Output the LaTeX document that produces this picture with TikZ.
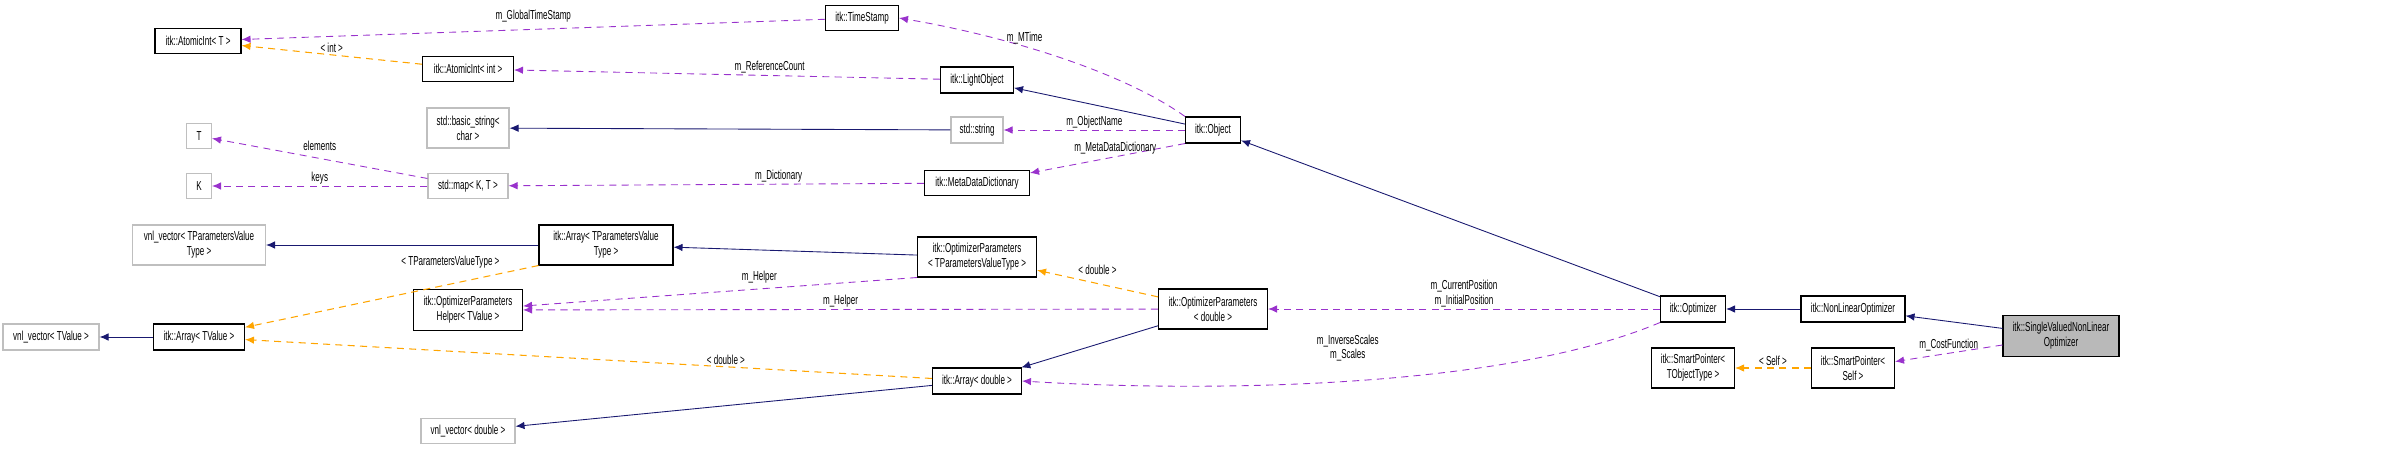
\documentclass[tikz,border=0pt]{standalone}
\usepackage{fontspec}
\setmainfont{Liberation Sans}[FakeStretch=0.62]
\usetikzlibrary{arrows.meta}
\definecolor{navyedge}{RGB}{25,25,112}
\definecolor{useedge}{RGB}{153,50,204}
\definecolor{tmpledge}{RGB}{255,165,0}
\begin{document}
\begin{tikzpicture}[x=0.2mm,y=-0.2mm,>={Latex[length=1.8mm,width=1.5mm]},
  cls/.style={draw,line width=0.6pt,inner sep=1pt,font=\fontsize{7.4}{8.4}\selectfont,align=center},
  ext/.style={cls,draw=gray!50},
  main/.style={cls,fill=gray!55},
  sz/.style 2 args={minimum width=#1*0.2mm,minimum height=#2*0.2mm},
  inh/.style={->,draw=navyedge,line width=0.5pt},
  use/.style={->,draw=useedge,dashed,dash pattern=on 4pt off 3pt,line width=0.5pt},
  tpl/.style={->,draw=tmpledge,dashed,dash pattern=on 4pt off 3pt,line width=0.6pt},
  lbl/.style={font=\fontsize{7.4}{8.4}\selectfont,align=center,inner sep=1pt}]
\useasboundingbox (0,0) rectangle (2403,451);

% left column
\node[cls,sz={86}{25}] (aiT) at (198,41) {itk::AtomicInt< T >};
\node[ext,sz={25}{25}] (T) at (199,136) {T};
\node[ext,sz={25}{25}] (K) at (199,186) {K};
\node[ext,sz={133}{40}] (vnlTP) at (199,245) {vnl\_vector< TParametersValue\\Type >};
\node[ext,sz={96}{26}] (vnlTV) at (51,337) {vnl\_vector< TValue >};
\node[cls,sz={91}{26}] (arrTV) at (199,337) {itk::Array< TValue >};

% second column
\node[cls,sz={91}{25}] (aiInt) at (468,69) {itk::AtomicInt< int >};
\node[ext,sz={82}{40}] (bstr) at (468,128) {std::basic\_string<\\char >};
\node[ext,sz={80}{25}] (map) at (468,186) {std::map< K, T >};
\node[cls,sz={134}{40}] (arrTP) at (606,245) {itk::Array< TParametersValue\\Type >};
\node[cls,sz={109}{41}] (helper) at (468,310) {itk::OptimizerParameters\\Helper< TValue >};
\node[ext,sz={94}{25}] (vnlD) at (468,431) {vnl\_vector< double >};

% third column
\node[cls,sz={73}{25}] (ts) at (862,18) {itk::TimeStamp};
\node[cls,sz={73}{26}] (light) at (977,80) {itk::LightObject};
\node[ext,sz={52}{26}] (str) at (977,130) {std::string};
\node[cls,sz={105}{25}] (mdd) at (977,183) {itk::MetaDataDictionary};
\node[cls,sz={119}{40}] (opT) at (977,257) {itk::OptimizerParameters\\< TParametersValueType >};
\node[cls,sz={89}{26}] (arrD) at (977,381) {itk::Array< double >};

% fourth column
\node[cls,sz={55}{26}] (obj) at (1213,130) {itk::Object};
\node[cls,sz={109}{40}] (opD) at (1213,309) {itk::OptimizerParameters\\< double >};

% right part
\node[cls,sz={65}{26}] (opt) at (1693,309) {itk::Optimizer};
\node[cls,sz={83}{40}] (spT) at (1693,368) {itk::SmartPointer<\\TObjectType >};
\node[cls,sz={104}{26}] (nlo) at (1853,309) {itk::NonLinearOptimizer};
\node[cls,sz={83}{40}] (spS) at (1853,368) {itk::SmartPointer<\\Self >};
\node[main,sz={116}{41}] (svnlo) at (2061,336) {itk::SingleValuedNonLinear\\Optimizer};

% inheritance
\draw[inh] (obj) -- (light);
\draw[inh] (str) -- (bstr);
\draw[inh] (arrTP) -- (vnlTP);
\draw[inh] (arrTV) -- (vnlTV);
\draw[inh] (opT) -- (arrTP);
\draw[inh] (opD) -- (arrD);
\draw[inh] (arrD) -- (vnlD);
\draw[inh] (opt) -- (obj);
\draw[inh] (nlo) -- (opt);
\draw[inh] (svnlo) -- (nlo);

% usage
\draw[use] (ts) -- node[lbl,above=3] {m\_GlobalTimeStamp} (aiT);
\draw[use] (light) -- node[lbl,above,pos=0.4] {m\_ReferenceCount} (aiInt);
\draw[use] (obj.north west) .. controls (1120,70) and (1000,35) .. node[lbl,above,pos=0.6] {m\_MTime} (ts.east);
\draw[use] (obj) -- node[lbl,above] {m\_ObjectName} (str);
\draw[use] (obj.south west) -- node[lbl,above,pos=0.45] {m\_MetaDataDictionary} (mdd);
\draw[use] (mdd) -- node[lbl,above,pos=0.35] {m\_Dictionary} (map);
\draw[use] (map) -- node[lbl,above=3] {elements} (T);
\draw[use] (map) -- node[lbl,above] {keys} (K);
\draw[use] (opT.south west) -- node[lbl,above=2,pos=0.4] {m\_Helper} (helper);
\draw[use] (opD) -- node[lbl,above] {m\_Helper} (helper);
\draw[use] (opt) -- node[lbl,above] {m\_CurrentPosition\\m\_InitialPosition} (opD);
\draw[use] (opt.south west) .. controls (1500,390) and (1200,392) .. node[lbl,above=10,pos=0.5] {m\_InverseScales\\m\_Scales} (arrD.east);
\draw[use] (svnlo) -- node[lbl,above] {m\_CostFunction} (spS);

% template instances
\draw[tpl] (aiInt) -- node[lbl,above] {< int >} (aiT);
\draw[tpl] (arrTP.south west) -- node[lbl,above=8,pos=0.3] {< TParametersValueType >} (arrTV);
\draw[tpl] (opD) -- node[lbl,above=4] {< double >} (opT);
\draw[tpl] (arrD) -- node[lbl,above,pos=0.3] {< double >} (arrTV);
\draw[tpl] (spS) -- node[lbl,above] {< Self >} (spT);
\end{tikzpicture}
\end{document}
